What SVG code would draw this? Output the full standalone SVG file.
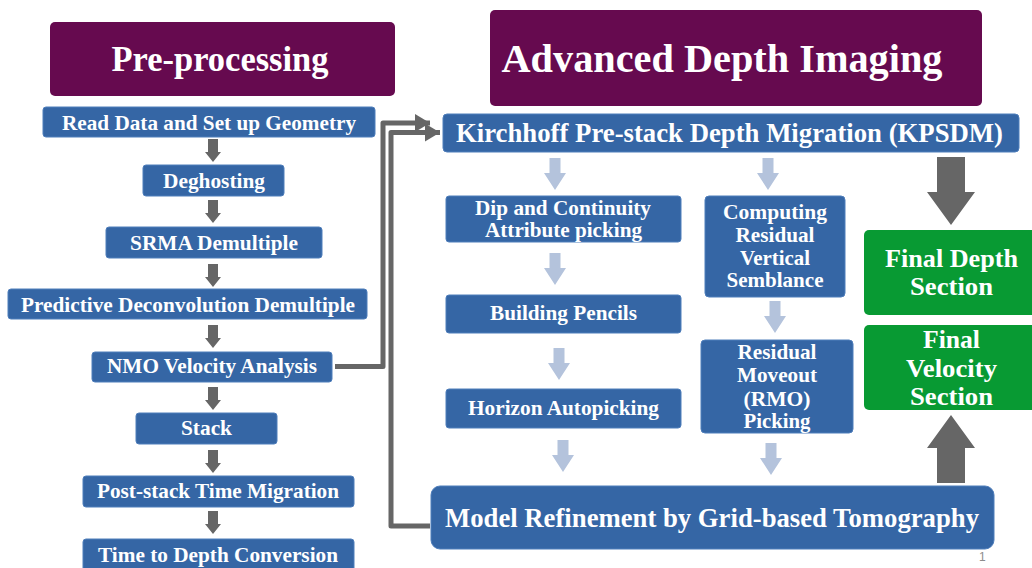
<svg xmlns="http://www.w3.org/2000/svg" width="1032" height="568" viewBox="0 0 1032 568">
  <style>
    .hdr { fill: #660a4f; }
    .box { fill: #3566a5; stroke: #4f7ebb; stroke-width: 1; }
    .fin { fill: #089a33; }
    .lbl { font-family: "Liberation Serif", "Times New Roman", serif; font-weight: bold; fill: #ffffff; text-anchor: middle; }
    .t21 { font-size: 21px; }
    .t26 { font-size: 26.5px; }
    .conn { fill: none; stroke: #666666; stroke-width: 5; stroke-linejoin: round; }
    .garrow { fill: #666666; }
    .larrow { fill: #b4c3dc; }
    .pg { font-family: "Liberation Sans", Arial, sans-serif; font-size: 12px; fill: #8c8c8c; }
  </style>
  <defs>
    <!-- small grey block arrow between processing steps -->
    <path id="sarrow" d="M-5,0 H5 V13 H8 L0,23 L-8,13 H-5 Z"/>
    <!-- pale blue block arrow -->
    <path id="larr" d="M-5.5,0 H5.5 V15 H11 L0,32 L-11,15 H-5.5 Z"/>
    <marker id="head" markerUnits="userSpaceOnUse" markerWidth="16" markerHeight="18" refX="15" refY="9" orient="auto">
      <path d="M0,0 L15,9 L0,18 Z" fill="#666666"/>
    </marker>
  </defs>

  <!-- section headers -->
  <g id="hdr-pre">
    <rect class="hdr" x="50" y="22" width="345" height="74" rx="5"/>
    <text class="lbl" x="220" y="71" font-size="35" textLength="217" lengthAdjust="spacingAndGlyphs">Pre-processing</text>
  </g>
  <g id="hdr-adi">
    <rect class="hdr" x="490" y="10" width="492" height="96" rx="5"/>
    <text class="lbl" x="722" y="72" font-size="40" textLength="441" lengthAdjust="spacingAndGlyphs">Advanced Depth Imaging</text>
  </g>

  <!-- pre-processing chain -->
  <g id="read">
    <rect class="box" x="43" y="107" width="332" height="30" rx="3"/>
    <text class="lbl t21" x="209" y="130" textLength="294" lengthAdjust="spacingAndGlyphs">Read Data and Set up Geometry</text>
  </g>
  <g id="deghost">
    <rect class="box" x="143" y="165" width="141" height="31" rx="3"/>
    <text class="lbl t21" x="214" y="188" textLength="102" lengthAdjust="spacingAndGlyphs">Deghosting</text>
  </g>
  <g id="srma">
    <rect class="box" x="106" y="227" width="216" height="31" rx="3"/>
    <text class="lbl t21" x="214" y="250" textLength="168" lengthAdjust="spacingAndGlyphs">SRMA Demultiple</text>
  </g>
  <g id="decon">
    <rect class="box" x="8" y="289" width="359" height="30" rx="3"/>
    <text class="lbl t21" x="188" y="312" textLength="334" lengthAdjust="spacingAndGlyphs">Predictive Deconvolution Demultiple</text>
  </g>
  <g id="nmo">
    <rect class="box" x="92" y="352" width="240" height="30" rx="3"/>
    <text class="lbl t21" x="212" y="373" textLength="210" lengthAdjust="spacingAndGlyphs">NMO Velocity Analysis</text>
  </g>
  <g id="stack">
    <rect class="box" x="136" y="413" width="141" height="31" rx="3"/>
    <text class="lbl t21" x="206.5" y="435" textLength="51" lengthAdjust="spacingAndGlyphs">Stack</text>
  </g>
  <g id="ptm">
    <rect class="box" x="83" y="476" width="271" height="31" rx="3"/>
    <text class="lbl t21" x="218" y="498" textLength="242" lengthAdjust="spacingAndGlyphs">Post-stack Time Migration</text>
  </g>
  <g id="t2d">
    <rect class="box" x="83" y="539" width="271" height="35" rx="3"/>
    <text class="lbl t21" x="218" y="562" textLength="240" lengthAdjust="spacingAndGlyphs">Time to Depth Conversion</text>
  </g>

  <!-- depth imaging chain -->
  <g id="kpsdm">
    <rect class="box" x="443" y="114" width="576" height="38" rx="4"/>
    <text class="lbl t26" x="729.5" y="142" textLength="547" lengthAdjust="spacingAndGlyphs">Kirchhoff Pre-stack Depth Migration (KPSDM)</text>
  </g>
  <g id="dip">
    <rect class="box" x="446" y="196" width="235" height="46" rx="3"/>
    <text class="lbl t21" x="563" y="215" textLength="176" lengthAdjust="spacingAndGlyphs">Dip and Continuity</text>
    <text class="lbl t21" x="563.5" y="237" textLength="157" lengthAdjust="spacingAndGlyphs">Attribute picking</text>
  </g>
  <g id="pencils">
    <rect class="box" x="446" y="295" width="235" height="38" rx="3"/>
    <text class="lbl t21" x="563.5" y="320" textLength="147" lengthAdjust="spacingAndGlyphs">Building Pencils</text>
  </g>
  <g id="horizon">
    <rect class="box" x="446" y="389" width="235" height="39" rx="3"/>
    <text class="lbl t21" x="563.5" y="415" textLength="191" lengthAdjust="spacingAndGlyphs">Horizon Autopicking</text>
  </g>
  <g id="semblance">
    <rect class="box" x="705" y="196" width="140" height="101" rx="4"/>
    <text class="lbl t21" x="775" y="219" textLength="104" lengthAdjust="spacingAndGlyphs">Computing</text>
    <text class="lbl t21" x="775" y="242" textLength="79" lengthAdjust="spacingAndGlyphs">Residual</text>
    <text class="lbl t21" x="775" y="265" textLength="70" lengthAdjust="spacingAndGlyphs">Vertical</text>
    <text class="lbl t21" x="775" y="287" textLength="97" lengthAdjust="spacingAndGlyphs">Semblance</text>
  </g>
  <g id="rmo">
    <rect class="box" x="701" y="340" width="152" height="93" rx="4"/>
    <text class="lbl t21" x="777" y="359" textLength="79" lengthAdjust="spacingAndGlyphs">Residual</text>
    <text class="lbl t21" x="777" y="382" textLength="80" lengthAdjust="spacingAndGlyphs">Moveout</text>
    <text class="lbl t21" x="777" y="406" textLength="67" lengthAdjust="spacingAndGlyphs">(RMO)</text>
    <text class="lbl t21" x="777" y="428" textLength="67" lengthAdjust="spacingAndGlyphs">Picking</text>
  </g>
  <g id="tomo">
    <rect class="box" x="431" y="486" width="563" height="63" rx="9"/>
    <text class="lbl t26" x="712" y="527" textLength="534" lengthAdjust="spacingAndGlyphs">Model Refinement by Grid-based Tomography</text>
  </g>
  <g id="final-depth">
    <rect class="fin" x="864" y="230" width="176" height="85" rx="5"/>
    <text class="lbl" x="951.5" y="267" font-size="26" textLength="133" lengthAdjust="spacingAndGlyphs">Final Depth</text>
    <text class="lbl" x="951.5" y="295" font-size="26" textLength="83" lengthAdjust="spacingAndGlyphs">Section</text>
  </g>
  <g id="final-velocity">
    <rect class="fin" x="864" y="325" width="176" height="85" rx="5"/>
    <text class="lbl" x="951.5" y="348" font-size="26" textLength="57" lengthAdjust="spacingAndGlyphs">Final</text>
    <text class="lbl" x="951.5" y="377" font-size="26" textLength="91" lengthAdjust="spacingAndGlyphs">Velocity</text>
    <text class="lbl" x="951.5" y="405" font-size="26" textLength="83" lengthAdjust="spacingAndGlyphs">Section</text>
  </g>

  <!-- connectors -->
  <g id="connectors">
    <!-- pre-processing step arrows -->
    <g class="garrow">
      <use href="#sarrow" x="213" y="139"/>
      <use href="#sarrow" x="213" y="200"/>
      <use href="#sarrow" x="213" y="264"/>
      <use href="#sarrow" x="213" y="325"/>
      <use href="#sarrow" x="213" y="387"/>
      <use href="#sarrow" x="213" y="450"/>
      <use href="#sarrow" x="213" y="511"/>
    </g>
    <!-- depth imaging step arrows -->
    <g class="larrow">
      <use href="#larr" x="555" y="158"/>
      <use href="#larr" x="555" y="253"/>
      <use href="#larr" x="559" y="348"/>
      <use href="#larr" x="563" y="440"/>
      <use href="#larr" x="768" y="158"/>
      <use href="#larr" x="775" y="301"/>
      <use href="#larr" x="771" y="443"/>
    </g>
    <!-- outputs -->
    <path class="garrow" d="M937,157 H965 V192 H975 L951,225 L927,192 H937 Z"/>
    <path class="garrow" d="M937,483 H965 V448 H975 L951,415 L927,448 H937 Z"/>
    <!-- NMO velocities feed KPSDM -->
    <path class="conn" d="M335,366.5 H383 V123 H430" marker-end="url(#head)"/>
    <!-- tomography update loops back to KPSDM -->
    <path class="conn" d="M430,526 H391 V132.5 H440" marker-end="url(#head)"/>
  </g>

  <text class="pg" x="979" y="561">1</text>
</svg>
